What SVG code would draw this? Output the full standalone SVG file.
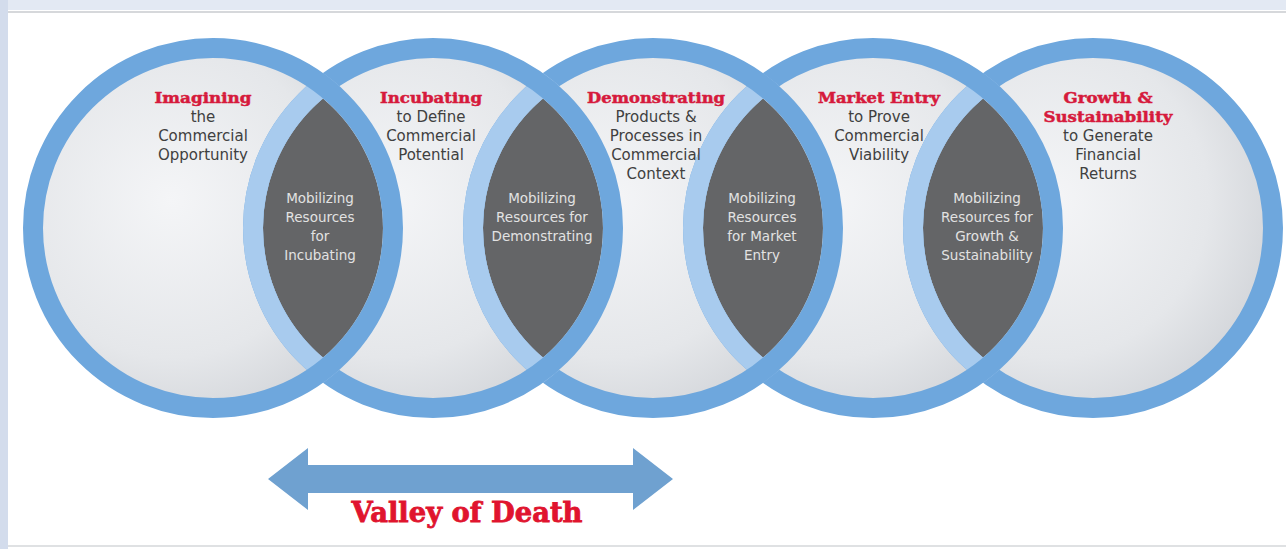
<svg xmlns="http://www.w3.org/2000/svg" width="1286" height="549" viewBox="0 0 1286 549">
<style>
.head{font-family:"DejaVu Serif","Liberation Serif",serif;font-weight:bold;font-size:15.5px;fill:#d61a3c;stroke:#d61a3c;stroke-width:0.5;text-anchor:middle}
.body{font-family:"DejaVu Sans","Liberation Sans",sans-serif;font-size:15px;fill:#404040;text-anchor:middle}
.lens{fill:#646567}
.ltxt{font-family:"DejaVu Sans","Liberation Sans",sans-serif;font-size:13.5px;fill:#e2e2e2;text-anchor:middle}
.ring{fill:none;stroke:#6ea7dd;stroke-width:20}
.ringl{fill:none;stroke:#a8cbee;stroke-width:20}
.disk{fill:url(#diskg)}
</style>
<defs>
<radialGradient id="diskg" cx="0.38" cy="0.42" r="0.75">
<stop offset="0" stop-color="#f4f5f7"/>
<stop offset="0.6" stop-color="#e5e7ea"/>
<stop offset="1" stop-color="#cbced3"/>
</radialGradient>
<clipPath id="c1"><circle cx="213" cy="228" r="190"/></clipPath>
<clipPath id="c2"><circle cx="433" cy="228" r="190"/></clipPath>
<clipPath id="c3"><circle cx="653" cy="228" r="190"/></clipPath>
<clipPath id="c4"><circle cx="873" cy="228" r="190"/></clipPath>
</defs>

<g id="background">
<rect x="0" y="0" width="1286" height="549" fill="#ffffff"/>
<rect x="0" y="0" width="1286" height="10" fill="#e3e9f3"/>
<rect x="0" y="0" width="8" height="549" fill="#d3dcec"/>
<line x1="8" y1="12" x2="1286" y2="12" stroke="#c9cbcf" stroke-width="1.5"/>
<line x1="8" y1="546" x2="1286" y2="546" stroke="#d5d7da" stroke-width="1.5"/>
</g>

<g id="disks">
<circle class="disk" cx="213" cy="228" r="175"/>
<circle class="disk" cx="433" cy="228" r="175"/>
<circle class="disk" cx="653" cy="228" r="175"/>
<circle class="disk" cx="873" cy="228" r="175"/>
<circle class="disk" cx="1093" cy="228" r="175"/>
</g>

<g id="lens-1">
<path class="lens" d="M323,98.4 A170,170 0 0,1 323,357.6 A170,170 0 0,1 323,98.4 Z"/>
<text class="ltxt" x="320" y="203">Mobilizing</text>
<text class="ltxt" x="320" y="222">Resources</text>
<text class="ltxt" x="320" y="241">for</text>
<text class="ltxt" x="320" y="260">Incubating</text>
</g>
<g id="lens-2">
<path class="lens" d="M543,98.4 A170,170 0 0,1 543,357.6 A170,170 0 0,1 543,98.4 Z"/>
<text class="ltxt" x="542" y="203">Mobilizing</text>
<text class="ltxt" x="542" y="222">Resources for</text>
<text class="ltxt" x="542" y="241">Demonstrating</text>
</g>
<g id="lens-3">
<path class="lens" d="M763,98.4 A170,170 0 0,1 763,357.6 A170,170 0 0,1 763,98.4 Z"/>
<text class="ltxt" x="762" y="203">Mobilizing</text>
<text class="ltxt" x="762" y="222">Resources</text>
<text class="ltxt" x="762" y="241">for Market</text>
<text class="ltxt" x="762" y="260">Entry</text>
</g>
<g id="lens-4">
<path class="lens" d="M983,98.4 A170,170 0 0,1 983,357.6 A170,170 0 0,1 983,98.4 Z"/>
<text class="ltxt" x="987" y="203">Mobilizing</text>
<text class="ltxt" x="987" y="222">Resources for</text>
<text class="ltxt" x="987" y="241">Growth &amp;</text>
<text class="ltxt" x="987" y="260">Sustainability</text>
</g>

<g id="stage-5">
<circle class="ring" cx="1093" cy="228" r="180"/>
<circle class="ringl" cx="1093" cy="228" r="180" clip-path="url(#c4)"/>
<text class="head" x="1108" y="103" textLength="89" lengthAdjust="spacingAndGlyphs">Growth &amp;</text>
<text class="head" x="1108" y="122" textLength="129" lengthAdjust="spacingAndGlyphs">Sustainability</text>
<text class="body" x="1108" y="141">to Generate</text>
<text class="body" x="1108" y="160">Financial</text>
<text class="body" x="1108" y="179">Returns</text>
</g>
<g id="stage-4">
<circle class="ring" cx="873" cy="228" r="180"/>
<circle class="ringl" cx="873" cy="228" r="180" clip-path="url(#c3)"/>
<text class="head" x="879" y="103" textLength="122" lengthAdjust="spacingAndGlyphs">Market Entry</text>
<text class="body" x="879" y="122">to Prove</text>
<text class="body" x="879" y="141">Commercial</text>
<text class="body" x="879" y="160">Viability</text>
</g>
<g id="stage-3">
<circle class="ring" cx="653" cy="228" r="180"/>
<circle class="ringl" cx="653" cy="228" r="180" clip-path="url(#c2)"/>
<text class="head" x="656" y="103" textLength="138" lengthAdjust="spacingAndGlyphs">Demonstrating</text>
<text class="body" x="656" y="122">Products &amp;</text>
<text class="body" x="656" y="141">Processes in</text>
<text class="body" x="656" y="160">Commercial</text>
<text class="body" x="656" y="179">Context</text>
</g>
<g id="stage-2">
<circle class="ring" cx="433" cy="228" r="180"/>
<circle class="ringl" cx="433" cy="228" r="180" clip-path="url(#c1)"/>
<text class="head" x="431" y="103" textLength="102" lengthAdjust="spacingAndGlyphs">Incubating</text>
<text class="body" x="431" y="122">to Define</text>
<text class="body" x="431" y="141">Commercial</text>
<text class="body" x="431" y="160">Potential</text>
</g>
<g id="stage-1">
<circle class="ring" cx="213" cy="228" r="180"/>
<text class="head" x="203" y="103" textLength="97" lengthAdjust="spacingAndGlyphs">Imagining</text>
<text class="body" x="203" y="122">the</text>
<text class="body" x="203" y="141">Commercial</text>
<text class="body" x="203" y="160">Opportunity</text>
</g>

<g id="connectors">
<polygon id="valley-arrow" points="268,479 308,448 308,465 633,465 633,448 673,479 633,510 633,493 308,493 308,510" fill="#6fa1d0"/>
<text x="467" y="522" font-family="DejaVu Serif, Liberation Serif, serif" font-weight="bold" font-size="27" fill="#e0142e" stroke="#e0142e" stroke-width="0.8" text-anchor="middle" textLength="231" lengthAdjust="spacingAndGlyphs">Valley of Death</text>
</g>
</svg>
